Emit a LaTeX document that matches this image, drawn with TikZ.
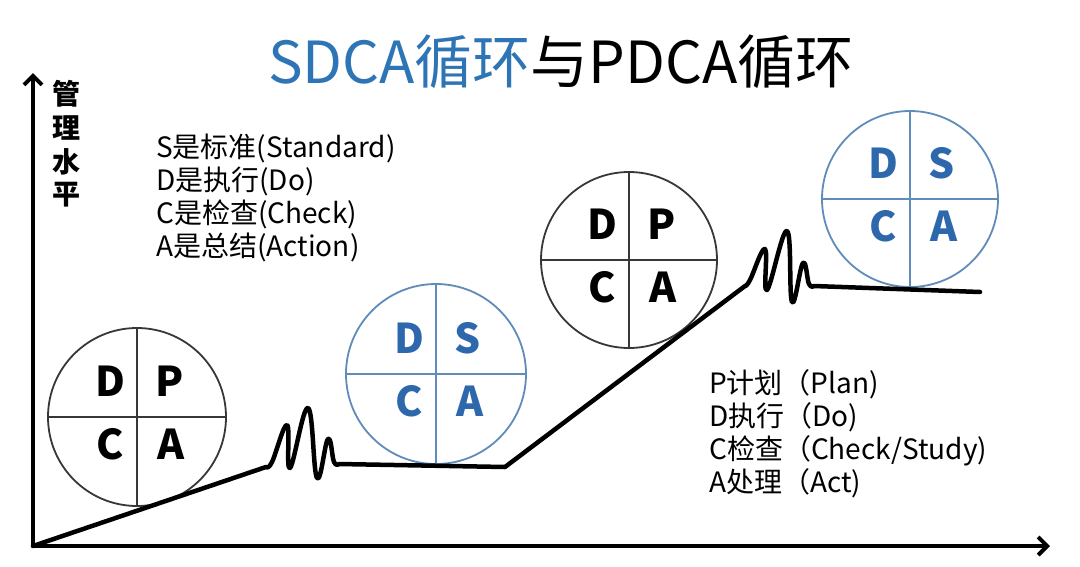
\documentclass[tikz,border=0pt]{standalone}
\usepackage{fontspec}
\setmainfont{Noto Sans CJK SC}
\usetikzlibrary{arrows.meta}
\definecolor{tblue}{RGB}{46,117,182}
\definecolor{lblue}{RGB}{46,104,172}
\definecolor{cblue}{RGB}{95,140,185}
\definecolor{cgray}{RGB}{55,55,55}
\begin{document}
\begin{tikzpicture}[x=1pt,y=-1pt,
  axis/.style={line width=4.5pt, line join=round, {Straight Barb[length=9pt,width=18pt,line width=4pt]}-{Straight Barb[length=9pt,width=18pt,line width=4pt]}},
  trend/.style={line width=4.5pt, line join=round, line cap=round},
  ring/.style={circle, draw, line width=1.8pt, inner sep=0pt, minimum size=#1},
  blackring/.style={ring=#1, draw=cgray},
  bluering/.style={ring=#1, draw=cblue},
  letter/.style={anchor=base, inner sep=0pt, font=\fontsize{41}{41}\selectfont\bfseries},
  info/.style={anchor=base west, inner sep=0pt, font=\fontsize{28}{28}\selectfont},
  ylab/.style={anchor=center, inner sep=0pt, font=\fontsize{28}{28}\selectfont\bfseries},
  ttl/.style={anchor=base, inner sep=0pt, font=\fontsize{58}{58}\selectfont}
]
\useasboundingbox (0,0) rectangle (1080,566);
\fill[white] (0,0) rectangle (1080,566);

% circles
\node[blackring=178pt] (c1) at (137,417) {};
\node[bluering=180pt]  (c2) at (436,374) {};
\node[blackring=176pt] (c3) at (629,260) {};
\node[bluering=176pt]  (c4) at (910,199) {};
\foreach \c/\col in {c1/cgray,c2/cblue,c3/cgray,c4/cblue}{
  \draw[\col, line width=1.8pt] (\c.north) -- (\c.south);
  \draw[\col, line width=1.8pt] (\c.west) -- (\c.east);
}
% letters
\node[letter] (c1d) at ([shift={(-27,-21)}]c1.center) {D};
\node[letter] (c1p) at ([shift={(33,-21)}]c1.center) {P};
\node[letter] (c1c) at ([shift={(-27,42)}]c1.center) {C};
\node[letter] (c1a) at ([shift={(34,42)}]c1.center) {A};
\node[letter,text=lblue] (c2d) at ([shift={(-27,-21)}]c2.center) {D};
\node[letter,text=lblue] (c2s) at ([shift={(32,-21)}]c2.center) {S};
\node[letter,text=lblue] (c2c) at ([shift={(-27,42)}]c2.center) {C};
\node[letter,text=lblue] (c2a) at ([shift={(34,42)}]c2.center) {A};
\node[letter] (c3d) at ([shift={(-27,-21)}]c3.center) {D};
\node[letter] (c3p) at ([shift={(33,-21)}]c3.center) {P};
\node[letter] (c3c) at ([shift={(-27,42)}]c3.center) {C};
\node[letter] (c3a) at ([shift={(34,42)}]c3.center) {A};
\node[letter,text=lblue] (c4d) at ([shift={(-27,-21)}]c4.center) {D};
\node[letter,text=lblue] (c4s) at ([shift={(32,-21)}]c4.center) {S};
\node[letter,text=lblue] (c4c) at ([shift={(-27,42)}]c4.center) {C};
\node[letter,text=lblue] (c4a) at ([shift={(34,42)}]c4.center) {A};

% axes
\coordinate (ytop) at (33,73);
\coordinate (O) at (33,546);
\coordinate (xend) at (1050,546);
\draw[axis] (ytop) -- (O) -- (xend);

% trend line
\coordinate (s1) at (266,467);
\coordinate (k1) at (505,467);
\coordinate (s2) at (745,286);
\coordinate (fin) at (980,292);
\draw[trend] (O) -- (s1)
  plot[smooth, tension=0.7] coordinates {(266,467) (272,462) (287,425) (290,468) (308,408) (317,478) (328,439) (334,462) (339,464)}
  -- (k1) -- (s2)
  plot[smooth, tension=0.7] coordinates {(745,286) (750,280) (765,249) (767,290) (787,231) (792,302) (803,263) (809,284) (814,286)}
  -- (fin);

% title
\node[ttl] (title) at (561,83) {\textcolor{tblue}{SDCA循环}与PDCA循环};

% y label
\node[ylab] (y1) at (66,94) {管};
\node[ylab] (y2) at (66,128) {理};
\node[ylab] (y3) at (66,162) {水};
\node[ylab] (y4) at (66,195) {平};

% left legend
\node[info] (l1) at (156,157) {S是标准(Standard)};
\node[info] (l2) at (156,190) {D是执行(Do)};
\node[info] (l3) at (156,223) {C是检查(Check)};
\node[info] (l4) at (156,256) {A是总结(Action)};

% right legend
\node[info] (r1) at (709,393) {P计划（Plan)};
\node[info] (r2) at (709,426) {D执行（Do)};
\node[info] (r3) at (709,459) {C检查（Check/Study)};
\node[info] (r4) at (709,492) {A处理（Act)};
\end{tikzpicture}
\end{document}
